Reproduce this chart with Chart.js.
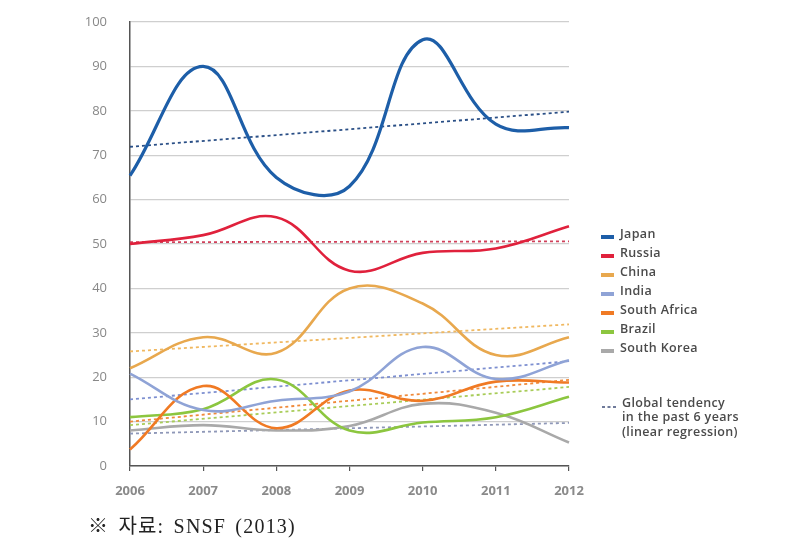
<!DOCTYPE html>
<html>
<head>
<meta charset="utf-8">
<script src="https://cdn.jsdelivr.net/npm/chart.js@4/dist/chart.umd.min.js"></script>
<style>
  html, body { margin:0; padding:0; background:#fff; }
  #wrap { position:relative; width:806px; height:544px; overflow:hidden; }
  canvas { position:absolute; left:0; top:0; }
  .leg { position:absolute; left:601px; font-family:"Open Sans", sans-serif; font-size:12.5px; font-weight:600; color:#4a4a4a; letter-spacing:0.35px; }
  .leg .sw { position:absolute; left:0; width:13px; height:4px; }
  .leg .tx { position:absolute; left:19px; white-space:nowrap; line-height:14px; }
  #caption { position:absolute; left:88px; top:513px; font-family:"Liberation Serif","Noto Sans CJK KR",serif; font-size:20px; letter-spacing:1.2px; word-spacing:3px; color:#222; white-space:nowrap; line-height:26px; }
</style>
</head>
<body>
<div id="wrap">
  <canvas id="c" width="806" height="544"></canvas>
  <div id="legend"></div>
  <div id="caption">※ 자료: SNSF (2013)</div>
</div>
<script>
// ---- data ----
const years = ['2006','2007','2008','2009','2010','2011','2012'];
const yTicks = [0,10,20,30,40,50,60,70,80,90,100];
const seriesNames = ['Japan','Russia','China','India','South Africa','Brazil','South Korea'];
const seriesColors = ['#1d5ea8','#e0213c','#e8a84e','#8fa3d6','#f07a24','#8cc63f','#a9a9a9'];
const trendColors  = ['#2a4f86','#d0405a','#f0b860','#7d8fd0','#f08a3a','#a8cc58','#8f98b8'];
const japan       = [65.4, 90, 65, 63, 96, 77, 76.2];
const russia      = [50, 52, 56, 44, 48, 49, 54];
const china       = [22, 29, 25.5, 40, 36.6, 25, 29];
const india       = [20.8, 12.6, 14.7, 16.8, 26.8, 19.6, 23.8];
const southAfrica = [3.7, 18, 8.5, 17, 14.7, 19, 18.8];
const brazil      = [11, 12.8, 19.5, 8, 9.8, 11, 15.6];
const southKorea  = [8, 9.2, 8, 9, 14, 12, 5.3];
// linear-regression trend lines: [value at 2006, value at 2012]
const japanTrend       = [71.9, 79.8];
const russiaTrend      = [50.4, 50.6];
const chinaTrend       = [25.8, 31.9];
const indiaTrend       = [15, 23.6];
const southAfricaTrend = [10, 19.4];
const brazilTrend      = [9.2, 17.8];
const southKoreaTrend  = [7.3, 9.7];
const trendNote = ['Global tendency', 'in the past 6 years', '(linear regression)'];

const seriesData = [japan, russia, china, india, southAfrica, brazil, southKorea];
const trendData = [japanTrend, russiaTrend, chinaTrend, indiaTrend, southAfricaTrend, brazilTrend, southKoreaTrend];

const datasets = [];
trendData.forEach((t, i) => {
  datasets.push({
    label: seriesNames[i] + ' trend',
    data: [{x: years[0], y: t[0]}, {x: years[years.length-1], y: t[1]}],
    borderColor: trendColors[i],
    borderWidth: 1.8,
    borderDash: [3, 3],
    pointRadius: 0,
    tension: 0,
    fill: false,
    order: 10
  });
});
seriesData.forEach((d, i) => {
  datasets.push({
    label: seriesNames[i],
    data: d,
    borderColor: seriesColors[i],
    borderWidth: i === 0 ? 3.2 : 2.6,
    pointRadius: 0,
    tension: 0.4,
    fill: false,
    order: i
  });
});

new Chart(document.getElementById('c'), {
  type: 'line',
  data: { labels: years, datasets },
  options: {
    responsive: false,
    animation: false,
    layout: { padding: { left: 0, right: 237, top: 22, bottom: 0 } },
    plugins: { legend: { display: false }, tooltip: { enabled: false } },
    scales: {
      x: {
        type: 'category',
        offset: false,
        afterFit: s => { s.height = 78; },
        grid: { drawOnChartArea: false, drawTicks: true, tickLength: 5, color: '#555', lineWidth: 1.2 },
        border: { color: '#555', width: 1.5 },
        ticks: { padding: 12, color: '#8a8a8a', font: { family: 'Open Sans', size: 13, weight: 'bold' }, maxRotation: 0 }
      },
      y: {
        min: 0, max: 100,
        afterFit: s => { s.width = 130; },
        afterBuildTicks: s => { s.ticks = yTicks.map(v => ({ value: v })); },
        grid: { color: '#cfcfcf', lineWidth: 1.2, drawTicks: true, tickLength: 19, tickColor: 'rgba(0,0,0,0)' },
        border: { color: '#555', width: 1.5 },
        ticks: { padding: 4, color: '#888', font: { family: 'Open Sans', size: 13 } }
      }
    }
  }
});

// legend
const leg = document.getElementById('legend');
seriesNames.forEach((n, i) => {
  const cy = 234 + i * 19;
  const el = document.createElement('div');
  el.className = 'leg';
  el.style.top = (cy - 7) + 'px';
  el.innerHTML = '<div class="sw" style="top:8px;background:' + seriesColors[i] + '"></div><div class="tx">' + n + '</div>';
  leg.appendChild(el);
});
const note = document.createElement('div');
note.className = 'leg';
note.style.top = '396px';
note.innerHTML = '<svg width="16" height="6" style="position:absolute;left:1px;top:8px"><line x1="0" y1="3" x2="16" y2="3" stroke="#6f7a9a" stroke-width="2" stroke-dasharray="3,2.5"/></svg>' +
  trendNote.map((t, k) => '<div class="tx" style="left:21px;top:' + (k * 14.3) + 'px">' + t + '</div>').join('');
leg.appendChild(note);
</script>
</body>
</html>
